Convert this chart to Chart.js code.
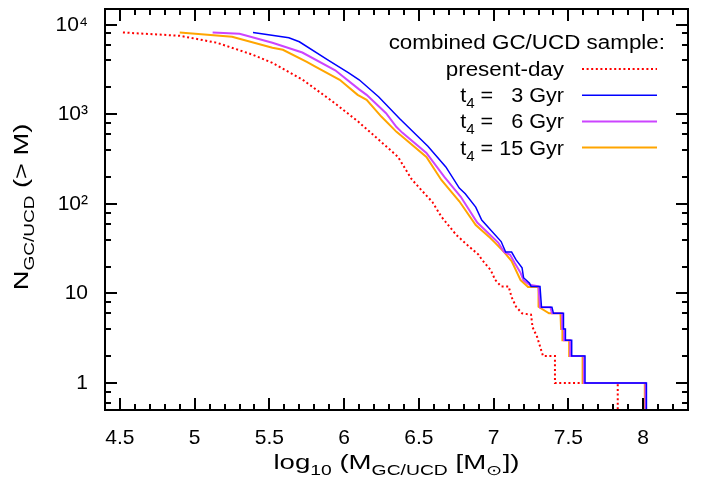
<!DOCTYPE html>
<html>
<head>
<meta charset="utf-8">
<script src="https://cdn.jsdelivr.net/npm/chart.js@4.4.1/dist/chart.umd.min.js"></script>
<style>
  html, body { margin: 0; padding: 0; background: #fff; }
  #wrap { width: 716px; height: 484px; }
</style>
</head>
<body>
<div id="wrap"><canvas id="cmf" width="716" height="484"></canvas></div>
<script>
// cumulative mass functions N(>M) (x = log10 M, y = N)
var presentX = [4.52, 4.90, 5.15, 5.39, 5.52, 5.72, 5.92, 6.09, 6.21, 6.36, 6.45, 6.50, 6.59, 6.65, 6.75, 6.83, 6.90, 6.92, 6.98, 7.01, 7.05, 7.10, 7.12, 7.15, 7.19, 7.25, 7.26, 7.29, 7.33, 7.41, 7.41, 7.83, 7.83]
var presentN = [8200, 7540, 6290, 4620, 3760, 2450, 1400, 840, 560, 335, 190, 153, 105, 72, 45, 34, 27, 24, 18.3, 14.2, 12, 12, 9.1, 7.1, 6, 5.8, 4.2, 3.3, 2, 2, 1, 1, 0.3]

var gyr3X = [5.39, 5.63, 5.70, 5.89, 6.03, 6.10, 6.23, 6.37, 6.56, 6.68, 6.77, 6.81, 6.88, 6.92, 7.05, 7.08, 7.12, 7.15, 7.19, 7.20, 7.24, 7.25, 7.31, 7.32, 7.39, 7.40, 7.467, 7.467, 7.48, 7.48, 7.522, 7.522, 7.611, 7.611, 8.022, 8.022]
var gyr3N = [8200, 7160, 6460, 4060, 2910, 2430, 1570, 900, 440, 259, 150, 130, 92, 66, 38, 29, 29, 23.7, 19.3, 15, 13, 12, 12, 7, 7, 6, 6, 4, 4, 3, 3, 2, 2, 1, 1, 0.3]

var gyr6X = [5.12, 5.30, 5.52, 5.72, 5.94, 6.10, 6.15, 6.28, 6.35, 6.39, 6.55, 6.67, 6.78, 6.89, 7.03, 7.07, 7.11, 7.14, 7.18, 7.20, 7.24, 7.30, 7.31, 7.38, 7.39, 7.458, 7.458, 7.47, 7.47, 7.512, 7.512, 7.603, 7.603, 8.016, 8.016]
var gyr6N = [8200, 7930, 6290, 4900, 3100, 1900, 1650, 1030, 722, 621, 371, 200, 120, 62, 37, 29, 27, 22, 17, 14, 12.5, 12, 7, 7, 6, 6, 4, 4, 3, 3, 2, 2, 1, 1, 0.3]

var gyr15X = [4.90, 5.25, 5.52, 5.59, 5.75, 5.81, 5.97, 6.09, 6.15, 6.25, 6.35, 6.39, 6.55, 6.65, 6.77, 6.88, 6.97, 7.01, 7.07, 7.12, 7.18, 7.23, 7.30, 7.30, 7.37, 7.447, 7.451, 7.46, 7.46, 7.505, 7.505, 7.595, 7.595, 8.011, 8.011]
var gyr15N = [8200, 7350, 5530, 5260, 3860, 3395, 2430, 1652, 1453, 938, 637, 561, 335, 185, 107, 58, 42.8, 36.7, 29, 23, 14.1, 11.8, 11.8, 7.1, 6, 6, 4, 4, 3, 3, 2, 2, 1, 1, 0.3]

var xTickVals = [4.5, 5, 5.5, 6, 6.5, 7, 7.5, 8]
var yTickVals = [1, 10, 100, 1000, 10000]
var yTickLabels = ['1', '10', '10²', '10³', '10⁴']

var legendTitle = 'combined GC/UCD sample:'
var legendLabels = [
    [{ t: 'present-day' }],
    [{ t: 't' }, { t: '4', sub: true }, { t: ' =   3 Gyr' }],
    [{ t: 't' }, { t: '4', sub: true }, { t: ' =   6 Gyr' }],
    [{ t: 't' }, { t: '4', sub: true }, { t: ' = 15 Gyr' }]
]
var seriesColors = ['#ff0000', '#0000ff', '#cc44ff', '#ffa500']

var FONT = '"Liberation Sans", Arial, sans-serif'

function toPoints(xs, ys) {
    return xs.map((x, i) => ({ x: x, y: ys[i] }))
}

// text with sub/superscripts, stretched horizontally a bit like the original
function richWidth(ctx, parts, size) {
    var w = 0
    parts.forEach(p => {
        ctx.font = (p.sub || p.sup ? Math.round(size * 0.7) : size) + 'px ' + FONT
        w += ctx.measureText(p.t).width
    })
    return w
}

function drawRich(ctx, parts, x, y, align, size, sx) {
    ctx.save()
    ctx.translate(x, y)
    ctx.scale(sx, 1)
    ctx.textBaseline = 'alphabetic'
    ctx.textAlign = 'left'
    var w = richWidth(ctx, parts, size)
    var cx = align === 'right' ? -w : (align === 'center' ? -w / 2 : 0)
    parts.forEach(p => {
        var s = p.sub || p.sup ? Math.round(size * 0.7) : size
        ctx.font = s + 'px ' + FONT
        var dy = p.sub ? size * 0.3 : (p.sup ? -size * 0.4 : 0)
        ctx.fillText(p.t, cx, dy)
        cx += ctx.measureText(p.t).width
    })
    ctx.restore()
}

// frame, inward ticks on all four sides, axis titles and key
const framePlugin = {
    id: 'framePlugin',
    afterDraw(chart) {
        const ctx = chart.ctx
        const a = chart.chartArea
        const xs = chart.scales.x
        const ys = chart.scales.y
        ctx.save()
        ctx.strokeStyle = '#000'
        ctx.fillStyle = '#000'
        ctx.lineWidth = 2
        ctx.lineCap = 'butt'

        function tickX(v, len) {
            var px = Math.round(xs.getPixelForValue(v))
            ctx.beginPath()
            ctx.moveTo(px, a.bottom); ctx.lineTo(px, a.bottom - len)
            ctx.moveTo(px, a.top); ctx.lineTo(px, a.top + len)
            ctx.stroke()
        }
        function tickY(v, len) {
            var py = Math.round(ys.getPixelForValue(v))
            ctx.beginPath()
            ctx.moveTo(a.left, py); ctx.lineTo(a.left + len, py)
            ctx.moveTo(a.right, py); ctx.lineTo(a.right - len, py)
            ctx.stroke()
        }
        // minor x ticks every 0.1
        for (var k = 44; k <= 83; k++) {
            var v = k / 10
            if (xTickVals.some(t => Math.abs(t - v) < 1e-6)) continue
            tickX(v, 6)
        }
        xTickVals.forEach(v => tickX(v, 12))
        // minor y ticks at 2,4,6,8 of each decade
        ;[0.1, 1, 10, 100, 1000].forEach(d => {
            [2, 4, 6, 8].forEach(m => {
                var v = m * d
                if (v > ys.min && v < ys.max) tickY(v, 6)
            })
        })
        yTickVals.forEach(v => tickY(v, 12))

        ctx.strokeRect(a.left, a.top, a.right - a.left, a.bottom - a.top)

        // axis titles
        drawRich(ctx, [{ t: 'log' }, { t: '10', sub: true }, { t: ' (M' }, { t: 'GC/UCD', sub: true }, { t: ' [M' }, { t: '⊙', sub: true }, { t: '])' }],
            (a.left + a.right) / 2, 469, 'center', 20, 1.38)
        ctx.save()
        ctx.translate(28, 207)
        ctx.rotate(-Math.PI / 2)
        drawRich(ctx, [{ t: 'N' }, { t: 'GC/UCD', sub: true }, { t: ' (> M)' }], 0, 0, 'center', 20, 1.36)
        ctx.restore()

        // key
        drawRich(ctx, [{ t: legendTitle }], 665, 49, 'right', 20, 1.12)
        legendLabels.forEach((parts, i) => {
            var rowY = 69 + i * 26.2
            drawRich(ctx, parts, 564, rowY + 7, 'right', 20, i === 0 ? 1.12 : 1.08)
            ctx.beginPath()
            ctx.strokeStyle = seriesColors[i]
            if (i === 0) { ctx.setLineDash([2, 2.6]); ctx.lineWidth = 2 }
            else { ctx.setLineDash([]); ctx.lineWidth = i === 1 ? 1.5 : 2 }
            ctx.moveTo(582, rowY); ctx.lineTo(657, rowY)
            ctx.stroke()
        })
        ctx.restore()
    }
}

new Chart(document.getElementById('cmf'), {
    type: 'line',
    data: {
        datasets: [
            { label: 't4 = 3 Gyr', data: toPoints(gyr3X, gyr3N), borderColor: seriesColors[1], borderWidth: 1.5 },
            { label: 't4 = 6 Gyr', data: toPoints(gyr6X, gyr6N), borderColor: seriesColors[2], borderWidth: 2 },
            { label: 't4 = 15 Gyr', data: toPoints(gyr15X, gyr15N), borderColor: seriesColors[3], borderWidth: 2 },
            { label: 'present-day', data: toPoints(presentX, presentN), borderColor: seriesColors[0], borderWidth: 2, borderDash: [2, 2.6] }
        ]
    },
    options: {
        responsive: false,
        animation: false,
        devicePixelRatio: 1,
        layout: { padding: { top: 9, right: 28, left: 0, bottom: 0 } },
        elements: {
            point: { radius: 0 },
            line: { tension: 0, fill: false }
        },
        plugins: {
            legend: { display: false },
            tooltip: { enabled: false },
            title: { display: false }
        },
        scales: {
            x: {
                type: 'linear',
                min: 4.4,
                max: 8.3,
                grid: { display: false, drawTicks: false },
                border: { display: false },
                afterBuildTicks: scale => { scale.ticks = xTickVals.map(v => ({ value: v })) },
                afterFit: scale => { scale.height = 74; scale.paddingLeft = 0; scale.paddingRight = 0 },
                ticks: {
                    autoSkip: false,
                    maxRotation: 0,
                    padding: 16,
                    color: '#000',
                    font: { family: FONT, size: 21 },
                    callback: v => String(v)
                }
            },
            y: {
                type: 'logarithmic',
                min: 0.5,
                max: 15000,
                grid: { display: false, drawTicks: false },
                border: { display: false },
                afterBuildTicks: scale => { scale.ticks = yTickVals.map(v => ({ value: v })) },
                afterFit: scale => { scale.width = 105; scale.paddingTop = 0; scale.paddingBottom = 0 },
                ticks: {
                    autoSkip: false,
                    padding: 17,
                    color: '#000',
                    font: { family: FONT, size: 21 },
                    callback: (v, i) => yTickLabels[yTickVals.indexOf(v)]
                }
            }
        }
    },
    plugins: [framePlugin]
})
</script>
</body>
</html>
